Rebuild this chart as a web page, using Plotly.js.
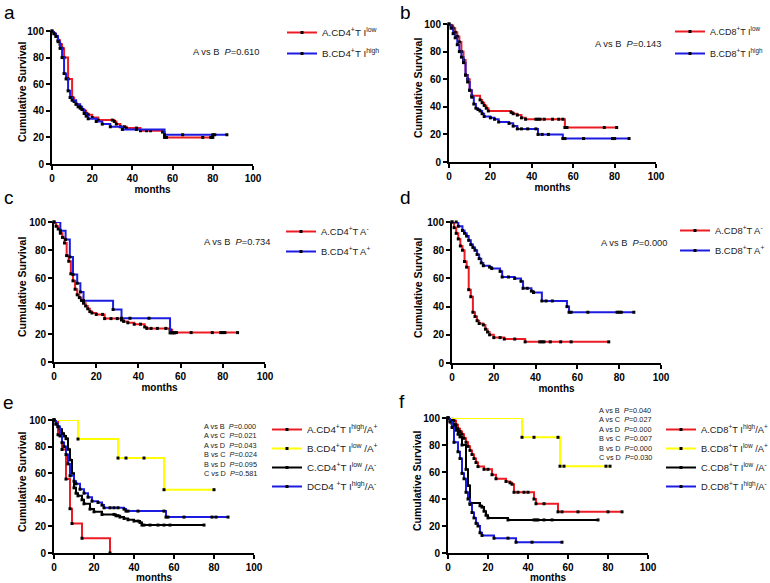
<!DOCTYPE html>
<html>
<head>
<meta charset="utf-8">
<script src="https://cdn.plot.ly/plotly-3.0.1.min.js"></script>
<style>html,body{margin:0;padding:0;background:#fff;}#chart{width:770px;height:583px;}</style>
</head>
<body>
<div id="chart"></div>
<script>
// ---------- DATA (months, cumulative survival %) ----------
// Panel a
const aLowT  = [0,1,2,3,4,5,6,8,10,11,12,13,14,15,16,17,18,20,23,30,31,32,34,36,37,42,44,47,49,55,56,57,75,79,80];
const aLowS  = [100,98,96,93,90,87,80,64,50,47,45,43,42,41,40,38,37,35,33,33,32,30,28,28,27,27,25,25,25,24,20,20,20,20,20];
const aHighT = [0,1,2,3,4,5,6,7,8,9,10,12,14,15,16,17,18,22,25,29,35,42,56,65,80,81,87];
const aHighS = [100,98,96,92,87,80,68,64,55,50,48,45,43,41,38,36,34,32,30,28,26,26,22,22,22,22,22];
// Panel b
const bLowT  = [0,1,2,3,4,5,6,7,8,9,10,11,15,16,17,18,19,30,31,33,35,37,42,43,44,46,50,53,55,56,57,75,81];
const bLowS  = [100,99,97,94,91,87,80,74,63,60,52,48,45,43,41,39,37,36,35,34,32,31,31,31,31,31,31,31,31,25,25,25,25];
const bHighT = [0,1,2,3,4,5,6,7,8,9,10,11,12,13,14,15,16,17,20,22,24,29,31,33,35,38,42,43,45,48,55,56,65,79,80,87];
const bHighS = [100,97,93,90,85,80,76,72,63,58,52,47,42,39,38,37,35,33,32,31,29,28,26,24,24,24,24,20,20,20,17,17,17,17,17,17];
// Panel c
const cNegT = [0,1,2,3,4,5,6,7,8,9,10,11,12,13,14,15,16,17,18,20,23,24,27,30,32,33,35,38,41,43,44,46,49,53,55,56,57,58,65,75,79,80,81,87];
const cNegS = [100,97,95,92,89,85,76,72,63,58,52,48,46,44,42,40,38,36,35,34,34,31,31,31,30,29,28,27,27,25,24,24,24,24,23,21,21,21,21,21,21,21,21,21];
const cPosT = [0,3,5.5,7.5,9,11,12.5,14,28,32,36,45,55,56,57];
const cPosS = [100,93.75,87.5,75,62.5,56.25,50,43.75,37.5,31.25,31.25,31.25,20.8,20.8,20.8];
// Panel d
const dNegT = [0,1,2,3,4,5,6,7,8,9,10,11,12,13,15,16,17,18,20,23,25,30,35,42,43,44,47,52,57,75];
const dNegS = [100,96,92,88,83,80,72,68,52,47,36,33,30,28,27,24,22,20,18,18,17,17,15,15,15,15,15,15,15,15];
const dPosT = [0,2,3,5,6,7,8,9,10,11,12,13,14,15,18,19,23,24,27,30,33,34,36,38,39,43,45,48,55,56,57,65,79,80,81,87];
const dPosS = [100,100,97,94,92,90,87,84,82,80,77,74,71,69,68,67,65,61,61,60,58,53,53,51,50,44,44,44,40,36,36,36,36,36,36,36];
// Panel e
const eAT = [0,2,4,6,8,9,14,28];
const eAS = [100,88.9,77.8,55.6,33.3,22.2,11.1,0];
const eBT = [0,12,32,36,45,55,80];
const eBS = [100,85.7,71.4,71.4,71.4,47.6,47.6];
const eCT = [0,1,2,3,4,5,6,7,8,9,10,11,12,14,15,18,20,24,30,31,32,33,35,37,40,42,43,44,45,48,52,55,58,75];
const eCS = [100,97,95,93,90,88,86,78,70,60,49,45,43,40,37,33,31,29,29,28,28,27,26,25,24,24,23,21,21,21,21,21,21,21];
const eDT = [0,1,2,3,4,5,6,7,8,10,11,13,15,17,19,22,24,25,28,30,32,35,36,37,42,55,56,57,65,79,81,87];
const eDS = [100,97,95,88,83,80,74,67,58,54,52,48,45,42,39,38,36,34,34,34,34,33,31.5,31.5,31.5,31.5,27,27,27,27,27,27];
// Panel f
const fAT = [0,2,3,4,5,6,7,8,9,10,11,12,13,14,15,18,20,22,24,29,31,32,33,35,38,40,43,44,48,55,57,65,80,87];
const fAS = [100,99,98,95,92,90,88,85,82,79,76,73,70,67,64,62,62,58,55,53,52,51,45,45,45,45,40,36.5,36.5,30.5,30.5,30.5,30.5,30.5];
const fBT = [0,37,43,55,56,58,79,81];
const fBS = [100,85.7,85.7,85.7,64.3,64.3,64.3,64.3];
const fCT = [0,1,2,3,4,5,6,7,9,10,11,16,17,18,19,20,30,43,44,45,48,52,75];
const fCS = [100,98,96,94,91,88,86,80,62,50,37,35,34,31,28,26,24.5,24.5,24.5,24.5,24.5,24.5,24.5];
const fDT = [0,1,2,3,5,6,7,8,9,10,11,12,13,14,15,16,17,23,30,34,42,57];
const fDS = [100,97,93,82,75,70,59,55,45,40,36,30,26,22,20,15,13,11,11,8,8,8];

// Labels
const panelLetters = ['a','b','c','d','e','f'];
const xTitle = 'months';
const yTitle = 'Cumulative Survival';
const pTextA = 'A vs B\u00a0 <i>P</i>=0.610';
const pTextB = 'A vs B\u00a0 <i>P</i>=0.143';
const pTextC = 'A vs B\u00a0 <i>P</i>=0.734';
const pTextD = 'A vs B\u00a0 <i>P</i>=0.000';
const pLinesE = ['A vs B\u00a0 <i>P</i>=0.000','A vs C\u00a0 <i>P</i>=0.021','A vs D\u00a0 <i>P</i>=0.043','B vs C\u00a0 <i>P</i>=0.024','B vs D\u00a0 <i>P</i>=0.095','C vs D\u00a0 <i>P</i>=0.581'];
const pLinesF = ['A vs B\u00a0 <i>P</i>=0.040','A vs C\u00a0 <i>P</i>=0.027','A vs D\u00a0 <i>P</i>=0.000','B vs C\u00a0 <i>P</i>=0.007','B vs D\u00a0 <i>P</i>=0.000','C vs D\u00a0 <i>P</i>=0.030'];

// ---------- STYLE ----------
const FONT = 'Liberation Sans, Arial, sans-serif';
const RED = '#ec1c24', BLUE = '#1c1ce0', YEL = '#ffff00', BLK = '#000000';
const W = 770, H = 583;
let gid = 0;

function series(t, s, name, color, k) {
  gid += 1;
  return {
    x: t, y: s, name: name, type: 'scatter', mode: 'lines+markers',
    line: {shape: 'hv', color: color, width: 2},
    marker: {color: '#000', size: 3, symbol: 'square'},
    xaxis: 'x' + (k === 1 ? '' : k), yaxis: 'y' + (k === 1 ? '' : k),
    legend: 'legend' + (k === 1 ? '' : k), legendgroup: 'g' + gid,
    cliponaxis: false, hoverinfo: 'skip'
  };
}

const traces = [
  series(aLowT, aLowS, 'A.CD4<sup>+</sup>T I<sup>low</sup>', RED, 1),
  series(aHighT, aHighS, 'B.CD4<sup>+</sup>T I<sup>high</sup>', BLUE, 1),
  series(bLowT, bLowS, 'A.CD8<sup>+</sup>T I<sup>low</sup>', RED, 2),
  series(bHighT, bHighS, 'B.CD8<sup>+</sup>T I<sup>high</sup>', BLUE, 2),
  series(cNegT, cNegS, 'A.CD4<sup>+</sup>T A<sup>-</sup>', RED, 3),
  series(cPosT, cPosS, 'B.CD4<sup>+</sup>T A<sup>+</sup>', BLUE, 3),
  series(dNegT, dNegS, 'A.CD8<sup>+</sup>T A<sup>-</sup>', RED, 4),
  series(dPosT, dPosS, 'B.CD8<sup>+</sup>T A<sup>+</sup>', BLUE, 4),
  series(eAT, eAS, 'A.CD4<sup>+</sup>T I<sup>high</sup>/A<sup>+</sup>', RED, 5),
  series(eBT, eBS, 'B.CD4<sup>+</sup>T I<sup>low</sup> /A<sup>+</sup>', YEL, 5),
  series(eCT, eCS, 'C.CD4<sup>+</sup>T I<sup>low</sup> /A<sup>-</sup>', BLK, 5),
  series(eDT, eDS, 'DCD4 <sup>+</sup>T I<sup>high</sup>/A<sup>-</sup>', BLUE, 5),
  series(fAT, fAS, 'A.CD8<sup>+</sup>T I<sup>high</sup>/A<sup>+</sup>', RED, 6),
  series(fBT, fBS, 'B.CD8<sup>+</sup>T I<sup>low</sup> /A<sup>+</sup>', YEL, 6),
  series(fCT, fCS, 'C.CD8<sup>+</sup>T I<sup>low</sup> /A<sup>-</sup>', BLK, 6),
  series(fDT, fDS, 'D.CD8<sup>+</sup>T I<sup>high</sup>/A<sup>-</sup>', BLUE, 6)
];

// plot boxes in pixels: [left, right, top, bottom]
const boxes = [
  [52, 253, 31, 164],
  [449, 656, 24, 162],
  [54, 265, 222, 362],
  [452, 661, 222, 363],
  [54, 254, 420, 553],
  [448, 648, 418, 553]
];

const layout = {
  width: W, height: H,
  margin: {l: 0, r: 0, t: 0, b: 0, autoexpand: false},
  paper_bgcolor: '#fff', plot_bgcolor: 'rgba(0,0,0,0)',
  font: {family: FONT, color: '#000'},
  showlegend: true,
  annotations: []
};

boxes.forEach((b, i) => {
  const k = i + 1, sfx = k === 1 ? '' : k;
  const common = {
    range: [0, 100], dtick: 20, tick0: 0, showgrid: false, zeroline: false,
    showline: true, linewidth: 2, linecolor: '#000',
    ticks: 'outside', ticklen: 4, tickwidth: 2, tickcolor: '#000',
    tickfont: {family: FONT, size: 10, weight: 'bold', color: '#000'},
    fixedrange: true
  };
  layout['xaxis' + sfx] = Object.assign({}, common, {
    domain: [b[0] / W, b[1] / W], anchor: 'y' + sfx,
    title: {text: xTitle, font: {family: FONT, size: 10, weight: 'bold'}, standoff: 3}
  });
  layout['yaxis' + sfx] = Object.assign({}, common, {
    domain: [1 - b[3] / H, 1 - b[2] / H], anchor: 'x' + sfx
  });
});

// y-axis titles (rotated), centre positions in px
const yTitlePos = [[22, 92], [418, 88], [22, 287], [418, 288], [22, 482], [417, 481]];
yTitlePos.forEach(p => {
  layout.annotations.push({
    xref: 'paper', yref: 'paper', x: p[0] / W, y: 1 - p[1] / H,
    xanchor: 'center', yanchor: 'middle', showarrow: false, textangle: -90,
    text: yTitle, font: {family: FONT, size: 10.5, weight: 'bold', color: '#000'}
  });
});

// legends: [left px, top px, gap, font size]
const legPos = [[282, 18, 2, 9.8], [670, 17, 3, 9], [281, 217, 1, 9.4], [675, 216, 1, 9.4], [267, 415, 0, 9.8], [661, 415, 0, 9.3]];
legPos.forEach((p, i) => {
  const sfx = i === 0 ? '' : (i + 1);
  layout['legend' + sfx] = {
    x: p[0] / W, y: 1 - p[1] / H, xanchor: 'left', yanchor: 'top',
    font: {family: FONT, size: p[3], color: '#222'},
    bgcolor: 'rgba(0,0,0,0)', borderwidth: 0, itemwidth: 30,
    traceorder: 'grouped', tracegroupgap: p[2],
    itemclick: false, itemdoubleclick: false
  };
});

// panel letters
const letterPos = [[2, 12], [398, 12], [2, 197], [398, 197], [1, 402], [397, 401]];
letterPos.forEach((p, i) => {
  layout.annotations.push({
    xref: 'paper', yref: 'paper', x: p[0] / W, y: 1 - p[1] / H,
    xanchor: 'left', yanchor: 'middle', showarrow: false,
    text: panelLetters[i], font: {family: FONT, size: 19, color: '#000'}
  });
});

// p-value texts
[[pTextA, 226, 52], [pTextB, 628, 44], [pTextC, 237, 242], [pTextD, 634, 243]].forEach(p => {
  layout.annotations.push({
    xref: 'paper', yref: 'paper', x: p[1] / W, y: 1 - p[2] / H,
    xanchor: 'center', yanchor: 'middle', showarrow: false,
    text: p[0], font: {family: FONT, size: 9.3, color: '#222'}
  });
});
[[pLinesE, 202, 450], [pLinesF, 597, 433.5]].forEach(p => {
  layout.annotations.push({
    xref: 'paper', yref: 'paper', x: p[1] / W, y: 1 - p[2] / H,
    xanchor: 'left', yanchor: 'middle', showarrow: false, align: 'left',
    text: p[0].join('<br>'), font: {family: FONT, size: 7.3, color: '#222'}
  });
});

Plotly.newPlot('chart', traces, layout, {staticPlot: true, displayModeBar: false});
</script>
</body>
</html>
